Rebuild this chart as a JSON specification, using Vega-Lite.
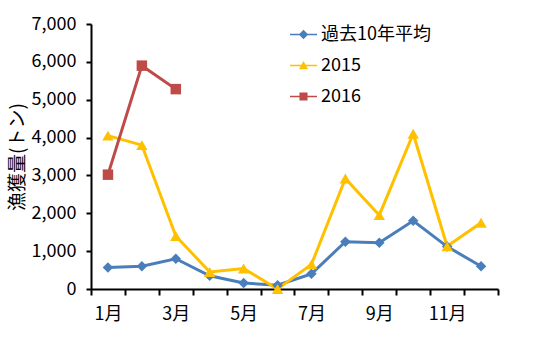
{
  "$schema": "https://vega.github.io/schema/vega-lite/v6.json",
  "width": 407,
  "height": 265,
  "autosize": {"type": "none"},
  "padding": {"left": 91, "top": 24, "right": 57, "bottom": 75},
  "background": "white",
  "config": {
    "view": {"stroke": null},
    "font": "Noto Sans CJK JP"
  },
  "data": {
    "values": [
      {"month": 1, "series": "過去10年平均", "value": 570},
      {"month": 2, "series": "過去10年平均", "value": 600},
      {"month": 3, "series": "過去10年平均", "value": 800},
      {"month": 4, "series": "過去10年平均", "value": 350},
      {"month": 5, "series": "過去10年平均", "value": 160},
      {"month": 6, "series": "過去10年平均", "value": 100},
      {"month": 7, "series": "過去10年平均", "value": 400},
      {"month": 8, "series": "過去10年平均", "value": 1250},
      {"month": 9, "series": "過去10年平均", "value": 1220},
      {"month": 10, "series": "過去10年平均", "value": 1800},
      {"month": 11, "series": "過去10年平均", "value": 1120},
      {"month": 12, "series": "過去10年平均", "value": 600},
      {"month": 1, "series": "2015", "value": 4050},
      {"month": 2, "series": "2015", "value": 3800},
      {"month": 3, "series": "2015", "value": 1400},
      {"month": 4, "series": "2015", "value": 450},
      {"month": 5, "series": "2015", "value": 540},
      {"month": 6, "series": "2015", "value": 0},
      {"month": 7, "series": "2015", "value": 650},
      {"month": 8, "series": "2015", "value": 2920},
      {"month": 9, "series": "2015", "value": 1950},
      {"month": 10, "series": "2015", "value": 4100},
      {"month": 11, "series": "2015", "value": 1130},
      {"month": 12, "series": "2015", "value": 1750},
      {"month": 1, "series": "2016", "value": 3020},
      {"month": 2, "series": "2016", "value": 5900},
      {"month": 3, "series": "2016", "value": 5280}
    ]
  },
  "encoding": {
    "x": {
      "field": "month",
      "type": "ordinal",
      "scale": {"type": "band", "paddingInner": 0, "paddingOuter": 0},
      "axis": {
        "title": null,
        "labelAngle": 0,
        "tickBand": "extent",
        "labelExpr": "datum.value % 2 == 1 ? datum.value + '月' : ''",
        "domainColor": "black",
        "domainWidth": 2,
        "tickColor": "black",
        "tickWidth": 2,
        "tickSize": 6,
        "labelFontSize": 18,
        "labelColor": "black",
        "labelPadding": 10,
        "grid": false
      }
    },
    "y": {
      "field": "value",
      "type": "quantitative",
      "scale": {"domain": [0, 7000], "nice": false},
      "axis": {
        "title": "漁獲量(トン)",
        "titleFontSize": 19,
        "titleFontWeight": "normal",
        "titleColor": "black",
        "titlePadding": 4,
        "values": [0, 1000, 2000, 3000, 4000, 5000, 6000, 7000],
        "format": ",.0f",
        "grid": false,
        "domainColor": "black",
        "domainWidth": 2,
        "tickColor": "black",
        "tickWidth": 2,
        "tickSize": 5,
        "labelFontSize": 18,
        "labelColor": "black",
        "labelPadding": 10
      }
    },
    "color": {
      "field": "series",
      "type": "nominal",
      "scale": {"domain": ["過去10年平均", "2015", "2016"], "range": ["#4a7ebb", "#ffc000", "#be4b48"]},
      "legend": {
        "title": null,
        "orient": "none",
        "legendX": 199,
        "legendY": -3,
        "symbolSize": 729,
        "symbolOpacity": 1,
        "symbolStrokeWidth": 0,
        "labelFontSize": 18,
        "labelColor": "black",
        "labelOffset": 4,
        "rowPadding": 8,
        "labelLimit": 300
      }
    }
  },
  "layer": [
    {
      "mark": {"type": "line", "strokeWidth": 3}
    },
    {
      "transform": [{"filter": "datum.series === '過去10年平均'"}],
      "mark": {"type": "point", "filled": true, "opacity": 1, "size": 110, "shape": "diamond"}
    },
    {
      "transform": [{"filter": "datum.series === '2015'"}],
      "mark": {"type": "point", "filled": true, "opacity": 1, "size": 130, "shape": "triangle-up"}
    },
    {
      "transform": [{"filter": "datum.series === '2016'"}],
      "mark": {"type": "point", "filled": true, "opacity": 1, "size": 110, "shape": "square"}
    },
    {
      "transform": [{"filter": "false"}],
      "mark": {"type": "point", "filled": true},
      "encoding": {
        "shape": {
          "field": "series",
          "type": "nominal",
          "scale": {
            "domain": ["過去10年平均", "2015", "2016"],
            "range": [
              "M-1,-0.06H1V0.06H-1Z M0,-0.35L0.35,0L0,0.35L-0.35,0Z",
              "M-1,-0.06H1V0.06H-1Z M0,-0.34L0.34,0.28L-0.34,0.28Z",
              "M-1,-0.06H1V0.06H-1Z M-0.3,-0.3H0.3V0.3H-0.3Z"
            ]
          },
          "legend": {
            "title": null,
            "orient": "none",
            "legendX": 199,
            "legendY": -3,
            "symbolSize": 729,
            "symbolOpacity": 1,
            "symbolStrokeWidth": 0,
            "labelFontSize": 18,
            "labelColor": "black",
            "labelOffset": 4,
            "rowPadding": 8,
            "labelLimit": 300
          }
        }
      }
    }
  ]
}
